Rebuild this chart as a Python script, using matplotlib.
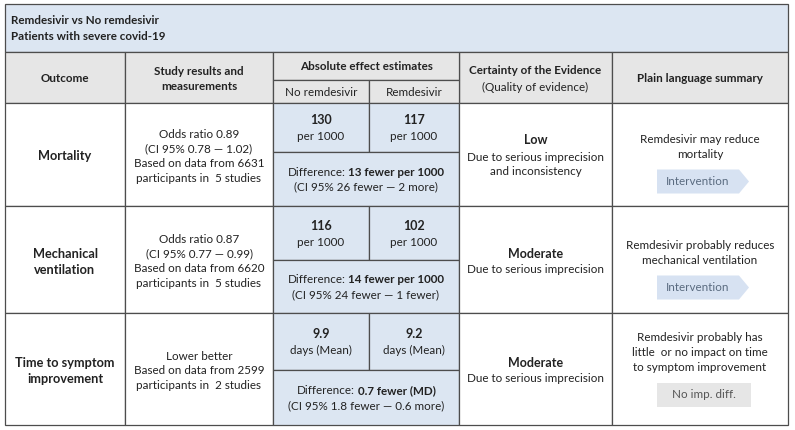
import matplotlib
matplotlib.use("Agg")
import matplotlib.pyplot as plt
from matplotlib.patches import Rectangle, Polygon

plt.rcParams['font.family'] = ['Lato', 'DejaVu Sans']

# table content
title_lines = ["Remdesivir vs No remdesivir", "Patients with severe covid-19"]
outcomes = ["Mortality", "Mechanical\nventilation", "Time to symptom\nimprovement"]
study_results = [
    ["Odds ratio 0.89", "(CI 95% 0.78 \u2014 1.02)", "Based on data from 6631", "participants in  5 studies"],
    ["Odds ratio 0.87", "(CI 95% 0.77 \u2014 0.99)", "Based on data from 6620", "participants in  5 studies"],
    ["Lower better", "Based on data from 2599", "participants in  2 studies"],
]
control_values = ["130", "116", "9.9"]
remdesivir_values = ["117", "102", "9.2"]
units = ["per 1000", "per 1000", "days (Mean)"]
differences = ["13 fewer per 1000", "14 fewer per 1000", "0.7 fewer (MD)"]
diff_ci = ["(CI 95% 26 fewer \u2014 2 more)", "(CI 95% 24 fewer \u2014 1 fewer)", "(CI 95% 1.8 fewer \u2014 0.6 more)"]
certainty = ["Low", "Moderate", "Moderate"]
certainty_reason = ["Due to serious imprecision\nand inconsistency", "Due to serious imprecision", "Due to serious imprecision"]
summaries = ["Remdesivir may reduce\nmortality",
             "Remdesivir probably reduces\nmechanical ventilation",
             "Remdesivir probably has\nlittle  or no impact on time\nto symptom improvement"]
badges = ["Intervention", "Intervention", "No imp. diff."]

# layout (pixels)
cols = [5, 125, 273, 369, 459, 612, 788]
top, title_bottom, head_split, head_bottom = 4, 52, 80, 103
row_edges = [103, 206, 313, 425]
row_splits = [152, 260, 370]
summary_first_line = [139, 245, 337]

TXT = "#222222"
EDGE = "#4d4d4d"
BLUE = "#dce6f2"
GREY = "#e6e6e6"
FS = 8.4

fig = plt.figure(figsize=(7.95, 4.3), dpi=100)
ax = fig.add_axes([0, 0, 1, 1])
ax.set_xlim(0, 795)
ax.set_ylim(430, 0)
ax.axis('off')


def box(x0, y0, x1, y1, fc):
    ax.add_patch(Rectangle((x0, y0), x1 - x0, y1 - y0, facecolor=fc, edgecolor=EDGE, lw=0.9))


def txt(x, y, s, bold=False, ha='center', color=TXT, size=FS, ls=1.45):
    ax.text(x, y, s, ha=ha, va='center', fontsize=size, color=color,
            fontweight='bold' if bold else 'normal', linespacing=ls)


renderer = fig.canvas.get_renderer()


def mixed(x, y, parts):
    # normal + bold pieces on one centred line
    items = []
    for s, b in parts:
        t = ax.text(0, y, s, ha='left', va='center', fontsize=FS, color=TXT,
                    fontweight='bold' if b else 'normal')
        w = t.get_window_extent(renderer).width
        items.append((t, w))
    gap = 3
    total = sum(w for _, w in items) + gap * (len(items) - 1)
    cx = x - total / 2
    for t, w in items:
        t.set_x(cx)
        cx += w + gap


# title block
box(cols[0], top, cols[-1], title_bottom, BLUE)
txt(11, 21, title_lines[0], bold=True, ha='left')
txt(11, 37, title_lines[1], bold=True, ha='left')

# header
for i in range(len(cols) - 1):
    if i in (2, 3):
        continue
    box(cols[i], title_bottom, cols[i + 1], head_bottom, GREY)
box(cols[2], title_bottom, cols[4], head_split, GREY)
box(cols[2], head_split, cols[3], head_bottom, GREY)
box(cols[3], head_split, cols[4], head_bottom, GREY)

txt((cols[0] + cols[1]) / 2, 79, "Outcome", bold=True)
txt((cols[1] + cols[2]) / 2, 79, "Study results and\nmeasurements", bold=True, ls=1.5)
txt((cols[2] + cols[4]) / 2, 67, "Absolute effect estimates", bold=True)
txt((cols[2] + cols[3]) / 2, 92, "No remdesivir")
txt((cols[3] + cols[4]) / 2, 92, "Remdesivir")
txt((cols[4] + cols[5]) / 2, 71, "Certainty of the Evidence", bold=True)
txt((cols[4] + cols[5]) / 2, 87, "(Quality of evidence)")
txt((cols[5] + cols[6]) / 2, 79, "Plain language summary", bold=True)

for r in range(3):
    y0, y1, ys = row_edges[r], row_edges[r + 1], row_splits[r]
    ym = (y0 + y1) / 2
    box(cols[0], y0, cols[1], y1, 'white')
    box(cols[1], y0, cols[2], y1, 'white')
    box(cols[2], y0, cols[3], ys, BLUE)
    box(cols[3], y0, cols[4], ys, BLUE)
    box(cols[2], ys, cols[4], y1, BLUE)
    box(cols[4], y0, cols[5], y1, 'white')
    box(cols[5], y0, cols[6], y1, 'white')

    txt((cols[0] + cols[1]) / 2, ym + 2, outcomes[r], bold=True, size=9.2, ls=1.4)
    txt((cols[1] + cols[2]) / 2, ym + 2, "\n".join(study_results[r]), ls=1.42)

    ya = (y0 + ys) / 2
    for c, val in ((2, control_values[r]), (3, remdesivir_values[r])):
        xc = (cols[c] + cols[c + 1]) / 2
        txt(xc, ya - 7, val, bold=True, size=9)
        txt(xc, ya + 9, units[r])
    yb = (ys + y1) / 2
    mixed((cols[2] + cols[4]) / 2, yb - 7, [("Difference:", False), (differences[r], True)])
    txt((cols[2] + cols[4]) / 2, yb + 8, diff_ci[r])

    xq = (cols[4] + cols[5]) / 2
    nlines = certainty_reason[r].count("\n") + 1
    yq = ym - 8 * nlines + 2
    txt(xq, yq, certainty[r], bold=True, size=9)
    txt(xq, yq + 8 + 8 * nlines, certainty_reason[r], ls=1.4)

    # plain language summary + badge
    xs = (cols[5] + cols[6]) / 2
    nl = summaries[r].count("\n") + 1
    lh = 15.5
    bh = 24
    first = summary_first_line[r]
    txt(xs, first + (nl - 1) * lh / 2, summaries[r], ls=1.4)
    by = first + (nl - 1) * lh + 15
    bx0, bx1 = xs - 43, xs + 49
    if badges[r] == "Intervention":
        ax.add_patch(Polygon([(bx0, by), (bx1 - 10, by), (bx1, by + bh / 2),
                              (bx1 - 10, by + bh), (bx0, by + bh)],
                             closed=True, facecolor="#d7e2f2", edgecolor='none'))
        txt((bx0 + bx1 - 10) / 2, by + bh / 2, badges[r], color="#5a6b80")
    else:
        ax.add_patch(Rectangle((bx0, by), bx1 - bx0 + 2, bh, facecolor=GREY, edgecolor='none'))
        txt((bx0 + bx1 + 2) / 2, by + bh / 2, badges[r], color="#555555")

fig.savefig("out.png", dpi=100)
